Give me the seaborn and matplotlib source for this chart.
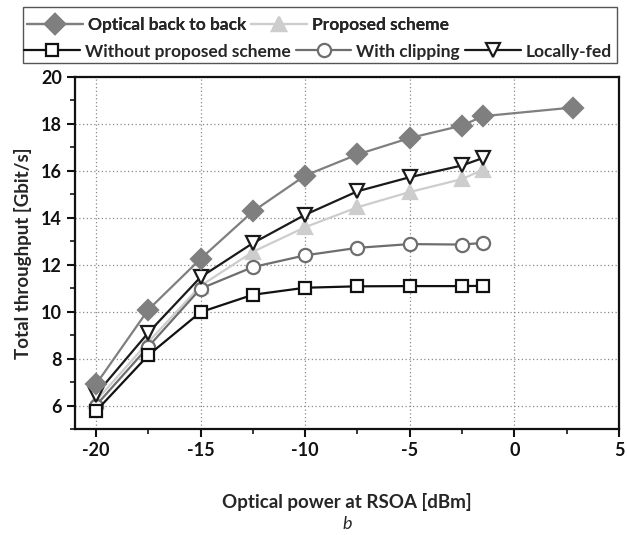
import matplotlib
matplotlib.use("Agg")
import matplotlib.pyplot as plt
import seaborn as sns
import pandas as pd
from matplotlib.ticker import MultipleLocator
from matplotlib.patches import Rectangle

# ---- data ----
x_main = [-20, -17.5, -15, -12.5, -10, -7.5, -5, -2.5, -1.5]
x_b2b = [-20, -17.5, -15, -12.5, -10, -7.5, -5, -2.5, -1.5, 2.8]
b2b = [6.9, 10.08, 12.25, 14.27, 15.8, 16.7, 17.4, 17.93, 18.33, 18.7]
proposed = [6.2, 8.7, 11.1, 12.55, 13.6, 14.45, 15.1, 15.65, 16.05]
without = [5.76, 8.14, 9.98, 10.72, 11.02, 11.08, 11.09, 11.09, 11.1]
clipping = [6.0, 8.5, 10.98, 11.9, 12.4, 12.72, 12.88, 12.86, 12.93]
local = [6.47, 9.1, 11.47, 12.92, 14.13, 15.13, 15.73, 16.23, 16.55]

labels = ["Optical back to back", "Proposed scheme", "Without proposed scheme",
          "With clipping", "Locally-fed"]
xticks = [-20, -15, -10, -5, 0, 5]
yticks = [6, 8, 10, 12, 14, 16, 18, 20]

sns.set_style("ticks")
plt.rcParams['font.family'] = ['Lato', 'DejaVu Sans']
plt.rcParams['font.weight'] = 'bold'

fig = plt.figure(figsize=(6.27, 5.35), dpi=100)
ax = fig.add_axes([75 / 627, 1 - 429 / 535, (619 - 75) / 627, (429 - 77) / 535])

styles = [
    dict(x=x_b2b, y=b2b, color="#7f7f7f", marker="D", mfc="#7f7f7f", mec="#7f7f7f", ms=10, z=5),
    dict(x=x_main, y=proposed, color="#cdcdcd", marker="^", mfc="#cdcdcd", mec="#cdcdcd", ms=10, z=3),
    dict(x=x_main, y=without, color="#111111", marker="s", mfc="white", mec="#111111", ms=9, z=4),
    dict(x=x_main, y=clipping, color="#6e6e6e", marker="o", mfc="white", mec="#6e6e6e", ms=9.5, z=3),
    dict(x=x_main, y=local, color="#1a1a1a", marker="v", mfc="white", mec="#1a1a1a", ms=10.5, z=4),
]

handles = []
for lab, st in zip(labels, styles):
    df = pd.DataFrame({"x": st["x"], "y": st["y"]})
    sns.lineplot(data=df, x="x", y="y", ax=ax, color=st["color"], marker=st["marker"],
                 markerfacecolor=st["mfc"], markeredgecolor=st["mec"],
                 markeredgewidth=1.6, markersize=st["ms"], linewidth=1.6,
                 label=lab, legend=False, zorder=st["z"])
    handles.append(ax.get_lines()[-1])

ax.set_xlim(-21, 5)
ax.set_ylim(5, 20)
ax.set_xticks(xticks)
ax.set_yticks(yticks)
ax.set_xticklabels([str(v) for v in xticks])
ax.set_yticklabels([str(v) for v in yticks])
ax.xaxis.set_minor_locator(MultipleLocator(2.5))
ax.yaxis.set_minor_locator(MultipleLocator(1))
ax.tick_params(which="major", direction="out", length=6, width=1.5, labelsize=13, colors="#111111")
ax.tick_params(which="minor", direction="out", length=3.5, width=1.3)
for lab in ax.get_xticklabels() + ax.get_yticklabels():
    lab.set_fontweight("bold")
for sp in ax.spines.values():
    sp.set_visible(True)
    sp.set_linewidth(1.6)
    sp.set_color("#111111")
ax.grid(True, which="major", linestyle=(0, (1, 2)), color="#8a8a8a", linewidth=0.9)
ax.set_axisbelow(True)

ax.set_xlabel("Optical power at RSOA [dBm]", fontsize=13.5, fontweight="bold", labelpad=24)
ax.set_ylabel("Total throughput [Gbit/s]", fontsize=13.5, fontweight="bold", labelpad=6)

fig.text(0.553, 0.012, "b", fontsize=13, style="italic", fontweight="normal", ha="center")

# legend (two rows, framed box)
leg_kw = dict(frameon=False, handlelength=3.2, handletextpad=0.3,
              columnspacing=0.3, borderpad=0, borderaxespad=0, loc="center left",
              prop=dict(family=['Lato', 'DejaVu Sans'], weight='bold', size=12.5))
leg1 = fig.legend(handles[:2], labels[:2], ncol=2, bbox_to_anchor=(27 / 627, 1 - 25 / 535), **leg_kw)
leg2 = fig.legend(handles[2:], labels[2:], ncol=3, bbox_to_anchor=(24 / 627, 1 - 51.5 / 535), **leg_kw)
fig.add_artist(leg1)
fig.patches.append(Rectangle((23 / 627, 1 - 63 / 535), (617 - 23) / 627, (63 - 7) / 535,
                             transform=fig.transFigure, fill=False, edgecolor="#555555",
                             linewidth=1.0, figure=fig))

fig.savefig("out.png", dpi=100)
